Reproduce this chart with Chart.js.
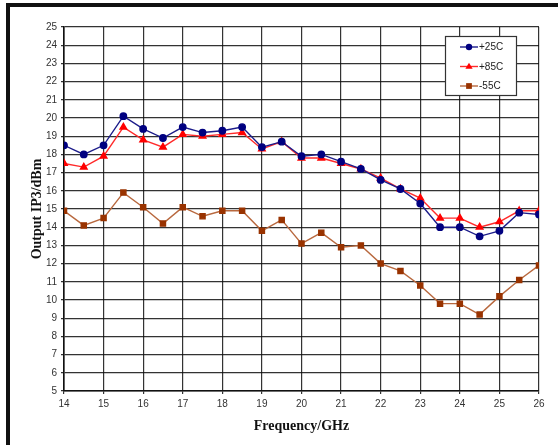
<!DOCTYPE html>
<html>
<head>
<meta charset="utf-8">
<script src="https://cdn.jsdelivr.net/npm/chart.js@4.4.1/dist/chart.umd.min.js"></script>
<style>
  html, body { margin: 0; padding: 0; background: #fff; }
  #wrap { position: relative; width: 558px; height: 445px; }
  #frame {
    position: absolute; left: 6px; top: 3px; right: -10px; bottom: -10px;
    border-top: 4px solid #111; border-left: 4px solid #111;
  }
  canvas { position: absolute; left: 0; top: 0; }
</style>
</head>
<body>
<div id="wrap">
  <div id="frame"></div>
  <canvas id="ip3Chart" width="558" height="445"></canvas>
</div>
<script>
const freqs = [14, 14.5, 15, 15.5, 16, 16.5, 17, 17.5, 18, 18.5, 19, 19.5, 20,
  20.5, 21, 21.5, 22, 22.5, 23, 23.5, 24, 24.5, 25, 25.5, 26];

const temp25 = [18.5, 18.0, 18.5, 20.1, 19.4, 18.9, 19.5, 19.2, 19.3, 19.5, 18.4, 18.7, 17.9,
  18.0, 17.6, 17.2, 16.6, 16.1, 15.3, 14.0, 14.0, 13.5, 13.8, 14.8, 14.7];
const temp85 = [17.5, 17.3, 17.9, 19.5, 18.8, 18.4, 19.1, 19.0, 19.1, 19.2, 18.3, 18.7, 17.8,
  17.8, 17.5, 17.2, 16.7, 16.1, 15.6, 14.5, 14.5, 14.0, 14.3, 14.9, 14.9];
const tempMinus55 = [14.9, 14.1, 14.5, 15.9, 15.1, 14.2, 15.1, 14.6, 14.9, 14.9, 13.8, 14.4, 13.1,
  13.7, 12.9, 13.0, 12.0, 11.6, 10.8, 9.8, 9.8, 9.2, 10.2, 11.1, 11.9];

const seriesLabels = ["+25C", "+85C", "-55C"];

const toPoints = (vals) => vals.map((v, i) => ({ x: freqs[i], y: v }));

const gridColor = "rgba(15, 15, 15, 0.85)";

// legend box drawn inside the plot, top right
const boxLegend = {
  id: "boxLegend",
  afterDraw(chart) {
    const ctx = chart.ctx;
    const area = chart.chartArea;
    const bx = area.right - 94, by = area.top + 9, bw = 71, bh = 59;
    ctx.save();
    ctx.fillStyle = "#fff";
    ctx.fillRect(bx, by, bw, bh);
    ctx.strokeStyle = "#333";
    ctx.lineWidth = 1.2;
    ctx.strokeRect(bx + 0.5, by + 0.5, bw, bh);
    chart.data.datasets.forEach((ds, i) => {
      const y = by + 11 + i * 19.5;
      ctx.strokeStyle = ds.borderColor;
      ctx.lineWidth = ds.borderWidth;
      ctx.beginPath();
      ctx.moveTo(bx + 15, y);
      ctx.lineTo(bx + 33, y);
      ctx.stroke();
      ctx.fillStyle = ds.pointBackgroundColor;
      const mx = bx + 24, r = ds.pointRadius;
      ctx.beginPath();
      if (ds.pointStyle === "circle") {
        ctx.arc(mx, y, r, 0, Math.PI * 2);
      } else if (ds.pointStyle === "triangle") {
        ctx.moveTo(mx, y - r);
        ctx.lineTo(mx + r * 0.95, y + r * 0.6);
        ctx.lineTo(mx - r * 0.95, y + r * 0.6);
        ctx.closePath();
      } else {
        ctx.rect(mx - r * 0.8, y - r * 0.8, r * 1.6, r * 1.6);
      }
      ctx.fill();
      ctx.fillStyle = "#222";
      ctx.font = "10px 'Liberation Sans', Arial, sans-serif";
      ctx.textBaseline = "middle";
      ctx.textAlign = "left";
      ctx.fillText(ds.label, bx + 34, y + 0.5);
    });
    ctx.restore();
  },
};

const ip3Chart = document.getElementById("ip3Chart");

new Chart(ip3Chart, {
  type: "line",
  data: {
    datasets: [
      {
        label: seriesLabels[0],
        data: toPoints(temp25),
        borderColor: "#1c1c8a",
        backgroundColor: "#000080",
        pointBackgroundColor: "#000080",
        pointBorderColor: "#000080",
        pointStyle: "circle",
        pointRadius: 3.2,
        borderWidth: 1.4,
      },
      {
        label: seriesLabels[1],
        data: toPoints(temp85),
        borderColor: "#ff2a2a",
        backgroundColor: "#ff0000",
        pointBackgroundColor: "#ff0000",
        pointBorderColor: "#ff0000",
        pointStyle: "triangle",
        pointRadius: 3.8,
        borderWidth: 1.4,
      },
      {
        label: seriesLabels[2],
        data: toPoints(tempMinus55),
        borderColor: "#b8683e",
        backgroundColor: "#993300",
        pointBackgroundColor: "#993300",
        pointBorderColor: "#993300",
        pointStyle: "rect",
        pointRadius: 3.6,
        borderWidth: 1.4,
      },
    ],
  },
  options: {
    responsive: false,
    animation: false,
    events: [],
    layout: {
      padding: { left: 0, top: 27, right: 19, bottom: 0 },
    },
    plugins: {
      legend: { display: false },
      tooltip: { enabled: false },
      title: { display: false },
    },
    scales: {
      x: {
        type: "linear",
        min: 14,
        max: 26,
        afterFit: (scale) => { scale.height = 54; },
        ticks: {
          stepSize: 1,
          padding: 4,
          color: "#333",
          font: { family: "'Liberation Sans', Arial, sans-serif", size: 10 },
          maxRotation: 0,
        },
        grid: { color: gridColor, lineWidth: 1.2, tickLength: 3 },
        border: { color: "#111", width: 1.6 },
        title: {
          display: true,
          text: "Frequency/GHz",
          color: "#111",
          font: { family: "'Liberation Serif', 'Times New Roman', serif", size: 14, weight: "bold" },
          padding: { top: 0, bottom: 10 },
        },
      },
      y: {
        min: 5,
        max: 25,
        afterFit: (scale) => { scale.width = 64; },
        ticks: {
          stepSize: 1,
          padding: 4,
          color: "#333",
          font: { family: "'Liberation Sans', Arial, sans-serif", size: 10 },
        },
        grid: { color: gridColor, lineWidth: 1.2, tickLength: 3 },
        border: { color: "#111", width: 1.6 },
        title: {
          display: true,
          text: "Output IP3/dBm",
          color: "#111",
          font: { family: "'Liberation Serif', 'Times New Roman', serif", size: 14, weight: "bold" },
          padding: { top: 29, bottom: 0 },
        },
      },
    },
  },
  plugins: [boxLegend],
});
</script>
</body>
</html>
